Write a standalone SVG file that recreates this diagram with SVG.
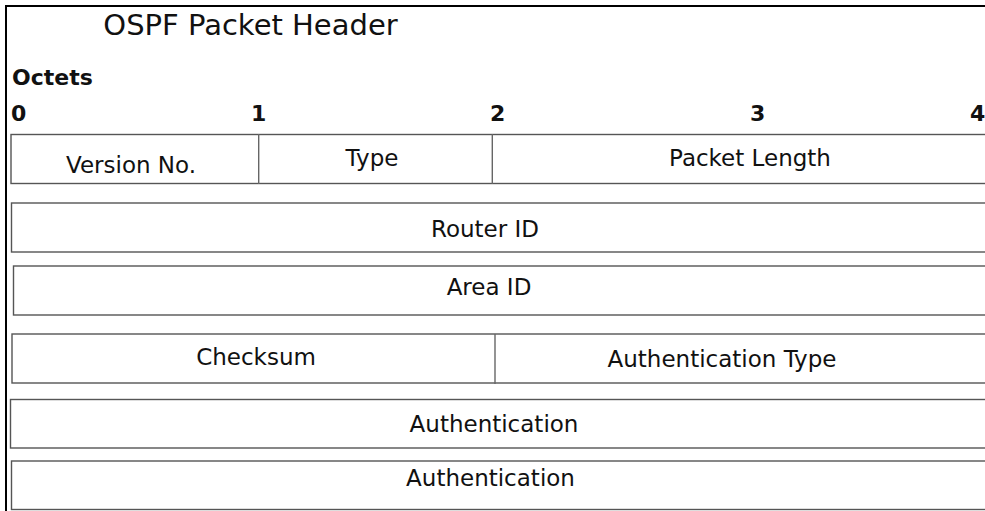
<svg xmlns="http://www.w3.org/2000/svg" width="985" height="511" viewBox="0 0 985 511">
<style>
.t{font-family:"DejaVu Sans","Liberation Sans",sans-serif;fill:#111;text-anchor:middle;font-size:23px}
.b{font-family:"DejaVu Sans","Liberation Sans",sans-serif;fill:#111;font-weight:bold;font-size:22px}
.cell{fill:#fff;stroke:#555;stroke-width:1.4}
.div{stroke:#666;stroke-width:1.4}
</style>
<rect width="985" height="511" fill="#fff"/>
<g id="frame">
<path d="M6,520 V6 H990" fill="none" stroke="#000" stroke-width="2"/>
</g>
<g id="title">
<text x="250.5" y="35" class="t" style="font-size:29px">OSPF Packet Header</text>
<text x="12" y="85" class="b">Octets</text>
<text x="11" y="121" class="b">0</text>
<text x="251" y="121" class="b">1</text>
<text x="490" y="121" class="b">2</text>
<text x="750" y="121" class="b">3</text>
<text x="970" y="121" class="b">4</text>
</g>
<g id="row1">
<rect class="cell" x="11" y="134.5" width="990" height="49"/>
<text x="131" y="173" class="t">Version No.</text>
<text x="372" y="165.5" class="t">Type</text>
<text x="750" y="165.5" class="t">Packet Length</text>
</g>
<g id="router-id">
<rect class="cell" x="11.5" y="203" width="990" height="49"/>
<text x="485" y="237" class="t">Router ID</text>
</g>
<g id="area-id">
<rect class="cell" x="13.5" y="266" width="990" height="49"/>
<text x="489" y="295" class="t">Area ID</text>
</g>
<g id="row4">
<rect class="cell" x="12" y="334" width="990" height="49"/>
<text x="256" y="365" class="t">Checksum</text>
<text x="722" y="366.5" class="t">Authentication Type</text>
</g>
<g id="auth1">
<rect class="cell" x="10.5" y="399.5" width="990" height="48.5"/>
<text x="494" y="431.5" class="t">Authentication</text>
</g>
<g id="auth2">
<rect class="cell" x="11.5" y="461" width="990" height="48.5"/>
<text x="490.5" y="486" class="t">Authentication</text>
</g>
<g id="connectors">
<line class="div" x1="258.7" y1="134" x2="258.7" y2="184"/>
<line class="div" x1="492.3" y1="134" x2="492.3" y2="184"/>
<line class="div" x1="495" y1="334" x2="495" y2="384"/>
</g>
</svg>
